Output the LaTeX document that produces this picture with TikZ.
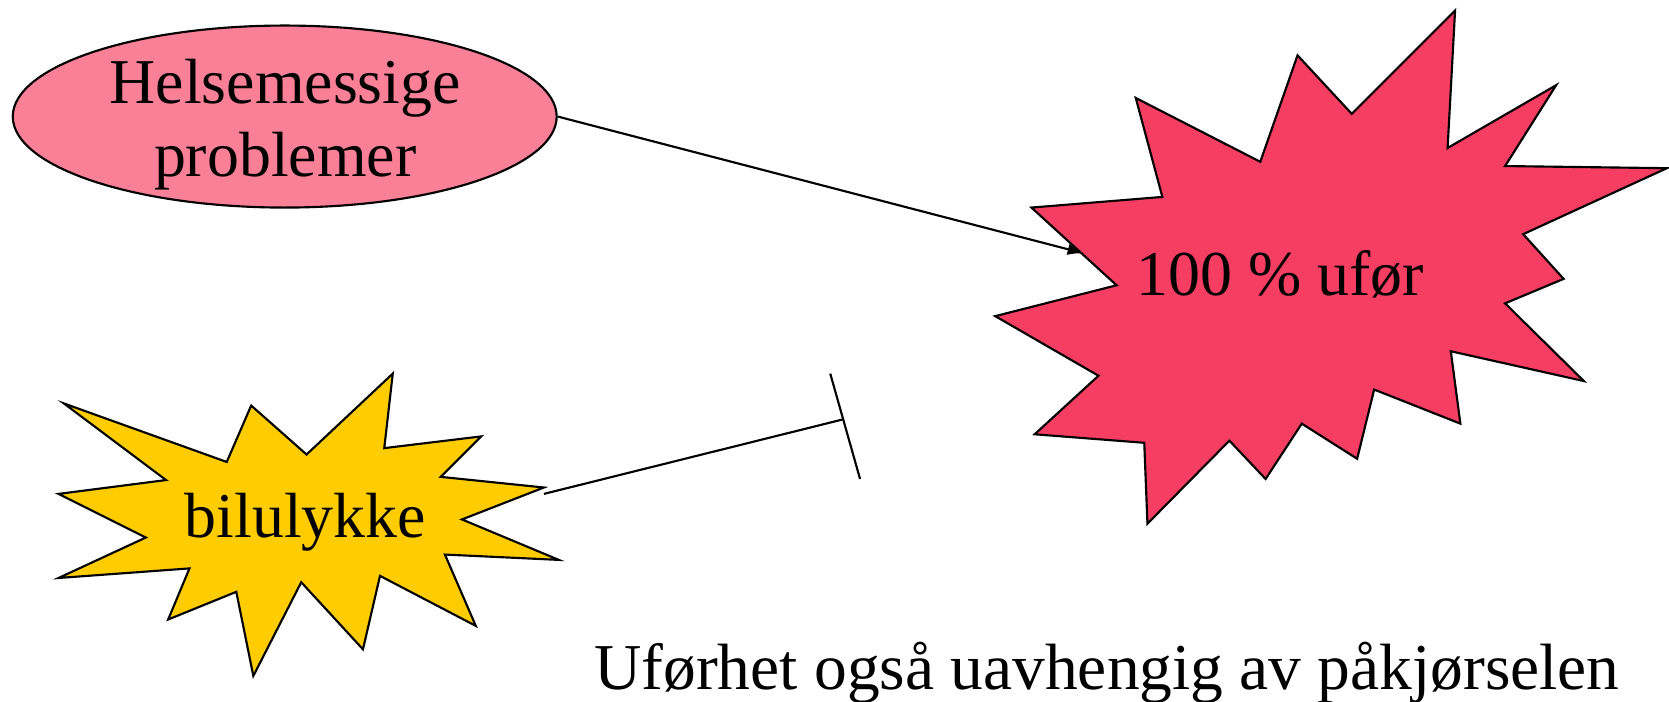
\documentclass[tikz,border=0pt]{standalone}
\usepackage{fontspec}
\setmainfont{Liberation Serif}
\usetikzlibrary{arrows.meta,shapes.geometric}
\definecolor{pinkfill}{RGB}{249,128,150}
\definecolor{redfill}{RGB}{245,62,98}
\definecolor{yellowfill}{RGB}{255,204,0}
\tikzset{
  outline/.style={draw=black,line width=2pt,line join=miter},
  conn/.style={draw=black,line width=2pt},
  bigtext/.style={font=\fontsize{60}{69}\selectfont,inner sep=0pt},
  captext/.style={font=\fontsize{61.5}{70}\selectfont,inner sep=0pt},
}
\begin{document}
\begin{tikzpicture}[x=1pt,y=-1pt]
\useasboundingbox (0,0) rectangle (1568,659);
% ellipse
\node[ellipse,outline,fill=pinkfill,minimum width=511pt,minimum height=171pt,inner sep=0pt] (helse) at (267.5,109.5) {};
\node[bigtext,align=center] (helsetext) at (268,117) {Helsemessige\\problemer};
% red star
\path[outline,fill=redfill] (1067,92) -- (1184,152) -- (1219,52) -- (1270,107) -- (1367,10) -- (1360,139) -- (1462,80) -- (1414,156) -- (1566,158) -- (1431,220) -- (1469,262) -- (1414,285) -- (1488,358) -- (1363,330) -- (1372,398) -- (1291,366) -- (1275,431) -- (1223,398) -- (1189,450) -- (1155,414) -- (1078,492) -- (1075,416) -- (972,408) -- (1032,353) -- (935,297) -- (1049,268) -- (969,195) -- (1092,185) -- cycle;
\node[bigtext,anchor=base] (ufor) at (1203,278) {100 \% ufør};
% yellow star
\path[outline,fill=yellowfill] (60,379) -- (213,434) -- (236,381) -- (288,427) -- (369,351) -- (361,421) -- (452,410) -- (414,448) -- (511,458) -- (434,488) -- (525,526) -- (418,521) -- (447,588) -- (357,541) -- (341,610) -- (283,547) -- (238,635) -- (222,556) -- (158,582) -- (178,534) -- (55,543) -- (137,505) -- (55,464) -- (156,451) -- cycle;
\node[bigtext,anchor=base] (bil) at (287,505) {bilulykke};
% connectors
\coordinate (arrowend) at (1018,238);
\draw[conn,-{Latex[length=15pt,width=11pt]}] (helse.east) -- (arrowend);
\coordinate (bilstart) at (511,464);
\coordinate (barend) at (792,394);
\coordinate (bartop) at (780,351);
\coordinate (barbot) at (808,450);
\draw[conn] (bilstart) -- (barend);
\draw[conn] (bartop) -- (barbot);
% caption
\node[captext,anchor=base] (caption) at (1040,648) {Uførhet også uavhengig av påkjørselen};
\end{tikzpicture}
\end{document}
